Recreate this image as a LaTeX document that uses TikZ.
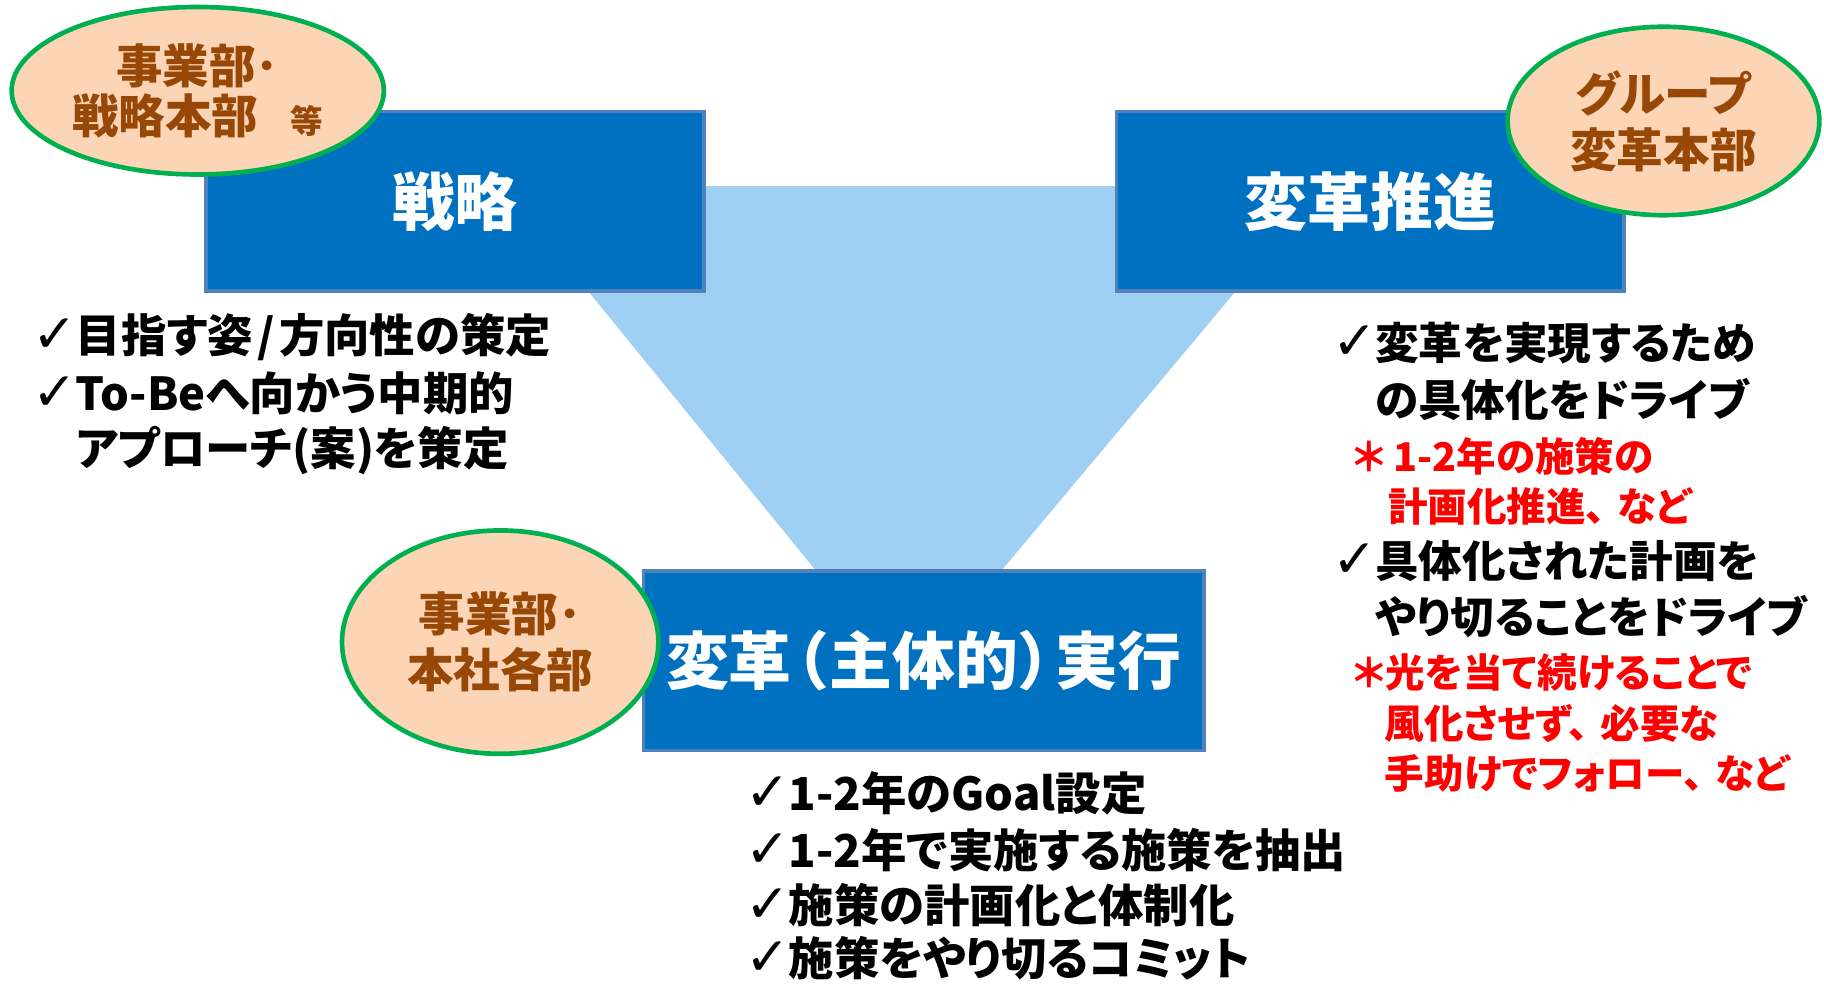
\documentclass[tikz,border=0pt]{standalone}
\usepackage{fontspec}
\setmainfont{Noto Sans CJK JP}[RawFeature={+palt}]
\newfontfamily\jpm{Noto Sans CJK JP}
\newfontfamily\chkfont{DejaVu Sans}
\usetikzlibrary{shapes.geometric}
\definecolor{boxblue}{HTML}{0070C0}
\definecolor{boxedge}{HTML}{4F81BD}
\definecolor{tri}{HTML}{9FD0F4}
\definecolor{peach}{HTML}{FBD5B5}
\definecolor{egreen}{HTML}{00B050}
\definecolor{brownt}{HTML}{984806}
\definecolor{redt}{HTML}{FF0000}
\newcommand{\fsz}[1]{\fontsize{#1}{#1}\selectfont}
\newcommand{\ck}{\makebox[37pt][l]{\smash{\chkfont\mdseries\fontsize{46}{46}\selectfont ✓}}}
\newcommand{\tc}{、\hspace{0.3em}}
\begin{document}
\begin{tikzpicture}[x=1pt,y=-1pt,
  bluebox/.style={draw=boxedge, line width=3pt, fill=boxblue, text=white,
    font=\jpm\bfseries\fsz{54}, inner sep=0pt, minimum height=154pt},
  oval/.style={ellipse, draw=egreen, line width=4pt, fill=peach, text=brownt,
    font=\bfseries\fontsize{40}{48}\selectfont, align=center, inner sep=0pt},
  blk/.style={anchor=west, inner sep=0pt, font=\bfseries\fsz{39}},
  rightblk/.style={anchor=west, inner sep=0pt, font=\bfseries\fsz{37.5}},
  redline/.style={anchor=west, inner sep=0pt, text=redt, font=\bfseries\fsz{34}}
]
\useasboundingbox (0,0) rectangle (1568,848);
\fill[white] (0,0) rectangle (1568,848);

% light blue inverted triangle behind
\fill[tri] (432,160) -- (1138,160) -- (780,587) -- cycle;

% boxes
\node[bluebox, minimum width=428pt] (senryaku) at (391,173) {戦略};
\node[bluebox, minimum width=436pt] (suishin) at (1178,173) {変革推進};
\node[bluebox, minimum width=482pt] (jikko) at (794,568)
  {変革\kern-0.4em（主体的）\kern-0.4em実行};

% ellipses
\node[oval, minimum width=320pt, minimum height=144pt] (e1) at (170,78)
  {事業部･\\[-5pt]戦略本部\hspace{0.7em}{\fontsize{28}{40}\selectfont 等}};
\node[oval, minimum width=268pt, minimum height=162pt] (e2) at (1430,104)
  {グループ\\変革本部};
\node[oval, minimum width=272pt, minimum height=192pt] (e3) at (430,552)
  {事業部･\\本社各部};

% left list
\node[blk] (s1) at (28,290) {\ck 目指す姿\hspace{0.1em}/\hspace{0.1em}方向性の策定};
\node[blk] (s2) at (28,338) {\ck To-Beへ向かう中期的};
\node[blk] (s3) at (65,387) {アプローチ(案)を策定};

% right list
\node[rightblk] (r1) at (1145,295) {\ck 変革を実現するため};
\node[rightblk] (r2) at (1182,343) {の具体化をドライブ};
\node[redline] (r3) at (1163,392) {＊\hspace{0.2em}1-2年の施策の};
\node[redline] (r4) at (1193,435) {計画化推進\tc など};
\node[rightblk] (r5) at (1145,482) {\ck 具体化された計画を};
\node[rightblk] (r6) at (1182,530) {やり切ることをドライブ};
\node[redline] (r7) at (1163,578) {＊光を当て続けることで};
\node[redline] (r8) at (1190,622) {風化させず\tc 必要な};
\node[redline] (r9) at (1190,665) {手助けでフォロー\tc など};

% bottom list
\node[blk] (b1) at (641,682) {\ck 1-2年のGoal設定};
\node[blk] (b2) at (641,731) {\ck 1-2年で実施する施策を抽出};
\node[blk] (b3) at (641,778) {\ck 施策の計画化と体制化};
\node[blk] (b4) at (641,824) {\ck 施策をやり切るコミット};
\end{tikzpicture}
\end{document}
